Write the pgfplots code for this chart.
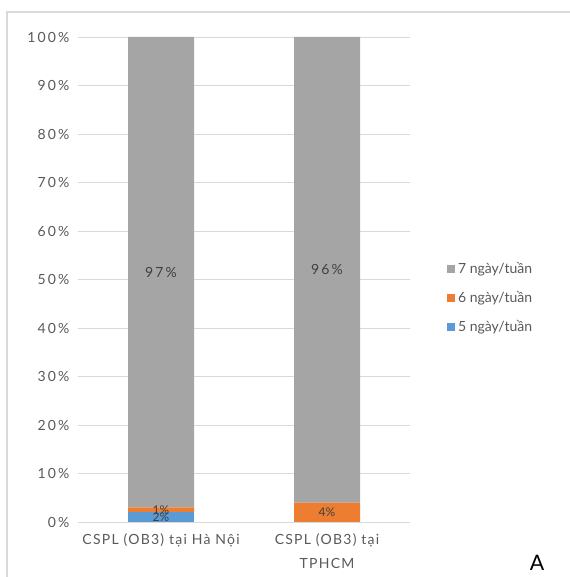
\documentclass[border=0pt]{standalone}
\usepackage{fontspec}
\setmainfont{Lato}
\newfontfamily\tickfont[LetterSpace=15]{Lato}
\newfontfamily\catfont[LetterSpace=9]{Lato}
\usepackage{pgfplots}
\pgfplotsset{compat=1.18}
\definecolor{sevenday}{HTML}{A5A5A5}
\definecolor{sixday}{HTML}{ED7D31}
\definecolor{fiveday}{HTML}{5B9BD5}
\definecolor{gridgray}{HTML}{D9D9D9}
\definecolor{labelgray}{HTML}{595959}
\definecolor{datagray}{HTML}{404040}

\begin{document}
\begin{tikzpicture}
  \useasboundingbox (0,0) rectangle (426.75pt,432.75pt);
  % outer chart frame
  \draw[gridgray, line width=1.5pt] (5.25pt,-5pt) -- (5.25pt,423.75pt) -- (440pt,423.75pt);

  \begin{axis}[
    at={(58.5pt,41.25pt)}, anchor=south west,
    scale only axis, width=249pt, height=363.75pt,
    ybar stacked, bar width=49.5pt,
    xmin=-0.5, xmax=1.5, ymin=0, ymax=100,
    xtick={0,1},
    xticklabels={CSPL (OB3) tại Hà Nội, {CSPL (OB3) tại\\TPHCM}},
    xticklabel style={align=center, yshift=-5pt,
      font=\catfont\fontsize{10.5}{18}\selectfont, text=labelgray},
    ytick={0,10,...,100},
    yticklabel={\pgfmathprintnumber{\tick}\%},
    yticklabel style={xshift=-3pt, font=\tickfont\fontsize{10.5}{13}\selectfont, text=labelgray},
    /pgf/number format/assume math mode=true,
    axis line style={draw=none},
    major tick style={draw=none},
    ymajorgrids, grid style={gridgray, line width=0.6pt},
    reverse legend,
    legend style={draw=none, at={(1.1,0.462)}, anchor=west,
      font=\fontsize{10.5}{13}\selectfont, text=labelgray,
      row sep=8pt, cells={anchor=west}},
    legend image code/.code={\fill[#1] (0pt,-3pt) rectangle (6pt,3pt);},
    point meta=explicit symbolic,
    nodes near coords,
    every node near coord/.append style={anchor=center, text=datagray},
  ]
    \addplot[fill=fiveday, draw=none,
      every node near coord/.append style={font=\fontsize{9}{10}\selectfont}]
      coordinates {(0,2) [2\%] (1,0) []};
    \addlegendentry{5 ngày/tuần}
    \addplot[fill=none, draw=none, forget plot,
      every node near coord/.append style={font=\fontsize{9}{10}\selectfont}]
      coordinates {(0,0) [0\%] (1,0) []};
    \addplot[fill=sixday, draw=none,
      every node near coord/.append style={font=\fontsize{9}{10}\selectfont}]
      coordinates {(0,1) [1\%] (1,4) [4\%]};
    \addlegendentry{6 ngày/tuần}
    \addplot[fill=sevenday, draw=none,
      every node near coord/.append style={font=\tickfont\fontsize{10.5}{13}\selectfont}]
      coordinates {(0,97) [97\%] (1,96) [96\%]};
    \addlegendentry{7 ngày/tuần}
  \end{axis}

  \node[font=\fontsize{16}{18}\selectfont, text=black] at (402.75pt,10.5pt) {A};
\end{tikzpicture}
\end{document}
